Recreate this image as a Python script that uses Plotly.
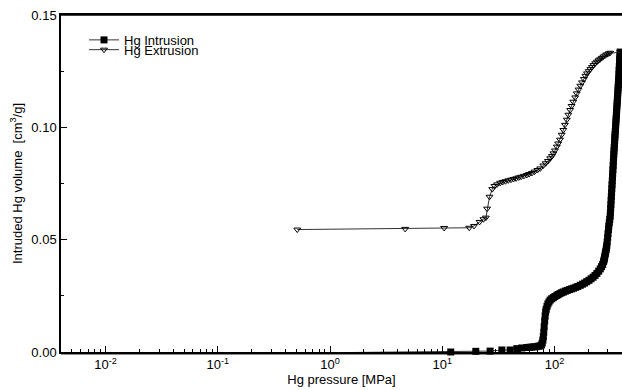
import plotly.graph_objects as go
import numpy as np

# Hg intrusion: pressure [MPa], volume [cm3/g]
intr_p = [0.268, 11.9, 19.9, 26.7, 34.0, 40.3, 46.2, 51.2, 56.7, 60.0, 62.9, 66.0, 69.7, 72.0, 74.6,
          76.5, 77.8, 78.9, 79.6, 80.3, 81.0, 81.8, 82.6, 83.5, 84.4, 85.8, 87.4, 89.4, 91.6, 94.5,
          97.8, 101, 105, 108, 112, 116, 120, 125, 130, 136, 142, 148, 155, 162, 170, 178, 186, 194,
          203, 212, 221, 230, 239, 248, 256, 263, 269, 274, 277, 279, 281, 284, 286, 289, 291, 293,
          295, 298, 300, 303, 305, 308, 311, 314,
          315.5, 317, 318.5, 320, 321.5, 323, 324.5, 326, 327.5, 329, 330.5, 332, 333.5, 335, 336.5,
          338, 339.5, 341, 342.5, 344, 345.5, 347, 348.5, 350, 351.5, 353, 354.5, 356, 357.5, 359,
          360.5, 362, 363.5, 365, 366.5, 368, 369.5, 371, 372.5, 374, 375.5, 377, 378.5, 380, 381.5,
          383, 385]
intr_v = [-0.0006, 0.0000, 0.0003, 0.0004, 0.0009, 0.0009, 0.0015, 0.0018, 0.0020, 0.0021, 0.0022, 0.0023, 0.0024, 0.0026, 0.0027,
          0.0031, 0.0040, 0.0053, 0.0068, 0.0088, 0.0113, 0.0138, 0.0160, 0.0178, 0.0190, 0.0203, 0.0214, 0.0223, 0.0231, 0.0237,
          0.0242, 0.0247, 0.0252, 0.0256, 0.0260, 0.0264, 0.0267, 0.0271, 0.0274, 0.0278, 0.0281, 0.0284, 0.0288, 0.0292, 0.0297, 0.0302, 0.0307, 0.0313,
          0.0319, 0.0326, 0.0333, 0.0341, 0.0350, 0.0360, 0.0370, 0.0380, 0.0390, 0.0402, 0.0410, 0.0418, 0.0427, 0.0437, 0.0446, 0.0456, 0.0465, 0.0475,
          0.0490, 0.0510, 0.0527, 0.0545, 0.0560, 0.0575, 0.0590, 0.0605,
          0.0622, 0.0640, 0.0657, 0.0675, 0.0692, 0.0709, 0.0727, 0.0744, 0.0761, 0.0778, 0.0795, 0.0812, 0.0829, 0.0846, 0.0863,
          0.0880, 0.0895, 0.0910, 0.0925, 0.0940, 0.0955, 0.0968, 0.0982, 0.0996, 0.1010, 0.1024, 0.1038, 0.1052, 0.1066, 0.1080,
          0.1094, 0.1108, 0.1121, 0.1135, 0.1149, 0.1163, 0.1177, 0.1190, 0.1205, 0.1220, 0.1237, 0.1254, 0.1271, 0.1288, 0.1304,
          0.1320, 0.1335]

# Hg extrusion: pressure [MPa], volume [cm3/g]
extr_p = [385, 314, 304, 293, 283, 273, 264, 255, 247, 239, 231, 223, 216, 209, 202, 195, 189, 183, 176,
          170, 164, 158, 153, 147, 142, 138, 133, 129, 124, 120, 116, 112, 108, 105, 101, 98, 95, 91.6,
          87.5, 83.5, 79.5, 74.6, 70.5, 66.5, 63, 59.5, 56.7, 53.5, 50.5, 48, 45.5, 43.2, 41, 38.8, 36.6,
          34.6, 32.8, 30.8, 29.2, 27.9, 26.4, 25.1, 24.5, 23.3, 21.5, 19.2, 17.4, 10.4, 4.67, 0.51]
extr_v = [0.1335, 0.1332, 0.1329, 0.1325, 0.1320, 0.1315, 0.1309, 0.1303, 0.1298, 0.1292, 0.1285, 0.1277, 0.1268, 0.1259, 0.1250, 0.1240, 0.1229, 0.1215, 0.1200,
          0.1185, 0.1168, 0.1151, 0.1133, 0.1114, 0.1095, 0.1077, 0.1056, 0.1034, 0.1011, 0.0988, 0.0967, 0.0945, 0.0928, 0.0914, 0.0897, 0.0884, 0.0872, 0.0862,
          0.0850, 0.0840, 0.0830, 0.0817, 0.0810, 0.0803, 0.0797, 0.0792, 0.0788, 0.0784, 0.0780, 0.0777, 0.0773, 0.0770, 0.0767, 0.0764, 0.0760,
          0.0757, 0.0753, 0.0746, 0.0739, 0.0725, 0.0691, 0.0638, 0.0598, 0.0591, 0.0579, 0.0561, 0.0553, 0.0552, 0.0548, 0.0545]

x_tickvals = [0.01, 0.1, 1, 10, 100]
x_ticktext = ["10<sup>-2</sup>", "10<sup>-1</sup>", "10<sup>0</sup>", "10<sup>1</sup>", "10<sup>2</sup>"]
y_tickvals = [0.00, 0.05, 0.10, 0.15]
y_ticktext = ["0.00", "0.05", "0.10", "0.15"]

x_minor = [m * 10.0 ** e for e in range(-3, 3) for m in range(2, 10) if 0.004 <= m * 10.0 ** e <= 400]

FONT = "Liberation Sans, Arial, sans-serif"

fig = go.Figure()
fig.add_trace(go.Scatter(
    x=intr_p, y=intr_v, name="Hg Intrusion", mode="lines+markers",
    line=dict(color="#333333", width=1),
    marker=dict(symbol="square", size=7, color="black", line=dict(color="black", width=0)),
    cliponaxis=False, legend="legend",
))
fig.add_trace(go.Scatter(
    x=extr_p, y=extr_v, name="Hg Extrusion", mode="lines+markers",
    line=dict(color="#333333", width=1),
    marker=dict(symbol="triangle-down-open", size=6, color="black", line=dict(width=1)),
    cliponaxis=False, legend="legend2",
))

# grey baseline just under the x axis and the top frame line
fig.add_shape(type="line", xref="paper", yref="paper", x0=0, x1=1, y0=-0.007, y1=-0.007,
              line=dict(color="#8a8a8a", width=1.5), layer="below")
fig.add_shape(type="line", xref="paper", yref="paper", x0=0, x1=1, y0=1, y1=1,
              line=dict(color="black", width=1.5), layer="above")

leg_common = dict(x=0.041, xanchor="left", yanchor="middle", bgcolor="rgba(0,0,0,0)",
                  font=dict(size=13), tracegroupgap=0, itemwidth=30, borderwidth=0)

fig.update_layout(
    width=622, height=390,
    margin=dict(l=61, r=0, t=15, b=38, autoexpand=False),
    paper_bgcolor="white", plot_bgcolor="white",
    font=dict(family=FONT, size=13, color="black"),
    showlegend=True,
    legend=dict(y=0.926, **leg_common),
    legend2=dict(y=0.897, **leg_common),
    xaxis=dict(
        type="log", range=[np.log10(0.004), np.log10(400)], automargin=False,
        tickmode="array", tickvals=x_tickvals, ticktext=x_ticktext,
        ticks="inside", ticklen=6, tickwidth=1, tickcolor="black",
        showline=True, linecolor="black", linewidth=1.5, mirror=True,
        showgrid=False, zeroline=False,
        minor=dict(tickmode="array", tickvals=x_minor, ticks="inside", ticklen=3, tickcolor="black", showgrid=False),
        title=dict(text="Hg pressure [MPa]", standoff=2, font=dict(size=13)),
        tickfont=dict(size=13),
    ),
    yaxis=dict(
        range=[0, 0.15], automargin=False,
        tickmode="array", tickvals=y_tickvals, ticktext=y_ticktext,
        ticks="inside", ticklen=6, tickwidth=1, tickcolor="black",
        showline=True, linecolor="black", linewidth=1.5,
        showgrid=False, zeroline=False,
        minor=dict(tickmode="array", tickvals=[0.025, 0.075, 0.125], ticks="inside", ticklen=3, tickcolor="black", showgrid=False),
        title=dict(text="Intruded Hg volume  [cm<sup>3</sup>/g]", standoff=6, font=dict(size=13)),
        tickfont=dict(size=13),
    ),
)

fig.write_html("out.html", config={"displayModeBar": False},
               post_script="document.body.style.margin='0';document.body.style.overflow='hidden';")
